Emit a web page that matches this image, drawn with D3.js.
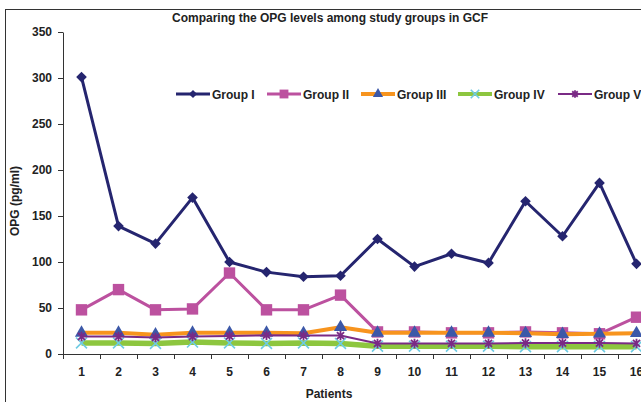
<!DOCTYPE html>
<html>
<head>
<meta charset="utf-8">
<script src="https://cdn.jsdelivr.net/npm/d3@7"></script>
<style>
  html, body { margin: 0; padding: 0; background: #fff; }
  svg { display: block; font-family: "Liberation Sans", Arial, sans-serif; }
</style>
</head>
<body>
<svg id="chart" width="641" height="402"></svg>
<script>
// ---- data ----
const patients = ["1","2","3","4","5","6","7","8","9","10","11","12","13","14","15","16"];
const seriesNames = ["Group I", "Group II", "Group III", "Group IV", "Group V"];
const groupI   = [301, 139, 120, 170, 100, 89, 84, 85, 125, 95, 109, 99, 166, 128, 186, 98];
const groupII  = [48, 70, 48, 49, 88, 48, 48, 64, 24, 24, 23, 23, 24, 23, 22, 40];
const groupIII = [23, 23, 21, 23, 23, 23, 22.5, 29, 23, 23, 23, 23, 22.5, 21.5, 22, 22.5];
const groupIV  = [12, 12, 11.5, 13, 12, 11.5, 12, 11.5, 8.5, 8.5, 8.5, 8.5, 8, 8, 8, 8];
const groupV   = [19, 19, 18, 19, 19.5, 20.5, 20, 20, 11.5, 11.5, 11.5, 11.5, 12, 12, 12, 11.5];
const yTicks = [0, 50, 100, 150, 200, 250, 300, 350];
const titleText = "Comparing the OPG levels among study groups in GCF";
const xTitle = "Patients";
const yTitle = "OPG (pg/ml)";

(function () {
// ---- marker shapes ----
const symTimes = { draw(c, size) { const r = Math.sqrt(size) / 2; c.moveTo(-r, -r); c.lineTo(r, r); c.moveTo(-r, r); c.lineTo(r, -r); } };
const symAst = { draw(c, size) { const r = Math.sqrt(size) / 2; const d = r * 0.75;
  c.moveTo(-d, -d); c.lineTo(d, d); c.moveTo(-d, d); c.lineTo(d, -d); c.moveTo(0, -r); c.lineTo(0, r); } };

const styles = [
  { data: groupI,   line: "#25256F", lw: 3,   sym: d3.symbolDiamond2, size: 72,  fill: "#25256F", stroke: "none", sw: 0 },
  { data: groupII,  line: "#BC519F", lw: 3,   sym: d3.symbolSquare,   size: 130, fill: "#BC519F", stroke: "none", sw: 0 },
  { data: groupIII, line: "#F7941E", lw: 4,   sym: d3.symbolTriangle, size: 75,  fill: "#3C58A8", stroke: "none", sw: 0 },
  { data: groupIV,  line: "#8DC63F", lw: 5.5, sym: symTimes,          size: 120, fill: "none", stroke: "#6DCBE3", sw: 1.6 },
  { data: groupV,   line: "#7A2A85", lw: 2,   sym: symAst,            size: 90,  fill: "none", stroke: "#7A2A85", sw: 1.8 }
];

const svg = d3.select("#chart");
const mLeft = 63, mTop = 32, mBottom = 354, step = 37;

const x = d3.scaleBand().domain(patients).range([mLeft, mLeft + step * patients.length]);
const xb = d3.scaleLinear().domain([0, patients.length]).range([mLeft, mLeft + step * patients.length]);
const y = d3.scaleLinear().domain([0, 350]).range([mBottom, mTop]);

// outer border
svg.append("rect").attr("x", 5.5).attr("y", 9.5).attr("width", 700).attr("height", 500)
  .attr("fill", "none").attr("stroke", "#333").attr("stroke-width", 1);

// title
svg.append("text").attr("x", 330).attr("y", 22).attr("text-anchor", "middle")
  .attr("font-size", 12).attr("font-weight", "bold").attr("fill", "#222").text(titleText);

// y axis
const yAxis = svg.append("g").attr("transform", `translate(${mLeft},0)`)
  .call(d3.axisLeft(y).tickValues(yTicks).tickSize(5).tickSizeOuter(0).tickPadding(6));
yAxis.selectAll("text").attr("font-size", 12).attr("font-weight", "bold").attr("fill", "#222")
  .attr("font-family", "Liberation Sans, Arial, sans-serif");
yAxis.selectAll("line, path").attr("stroke", "#333");

// x axis: boundary ticks
const xAxisTicks = svg.append("g").attr("transform", `translate(0,${mBottom})`)
  .call(d3.axisBottom(xb).tickValues(d3.range(0, patients.length + 1)).tickFormat("").tickSize(5).tickSizeOuter(0));
xAxisTicks.selectAll("line, path").attr("stroke", "#333");
// x labels
const xAxisLabels = svg.append("g").attr("transform", `translate(0,${mBottom})`)
  .call(d3.axisBottom(x).tickSize(0).tickPadding(13));
xAxisLabels.select("path").remove();
xAxisLabels.selectAll("text").attr("font-size", 12).attr("font-weight", "bold").attr("fill", "#222")
  .attr("font-family", "Liberation Sans, Arial, sans-serif");

// axis titles
svg.append("text").attr("x", 329).attr("y", 398).attr("text-anchor", "middle")
  .attr("font-size", 12).attr("font-weight", "bold").attr("fill", "#222").text(xTitle);
svg.append("text").attr("transform", "translate(19,201) rotate(-90)").attr("text-anchor", "middle")
  .attr("font-size", 12).attr("font-weight", "bold").attr("fill", "#222").text(yTitle);

// series
const cx = d => x(d) + x.bandwidth() / 2;
const lineGen = d3.line().x((d, i) => cx(patients[i])).y(d => y(d));
styles.forEach(s => {
  const g = svg.append("g");
  g.append("path").datum(s.data).attr("d", lineGen).attr("fill", "none")
    .attr("stroke", s.line).attr("stroke-width", s.lw).attr("stroke-linejoin", "round");
  g.selectAll("path.m").data(s.data).join("path").attr("class", "m")
    .attr("transform", (d, i) => `translate(${cx(patients[i])},${y(d)})`)
    .attr("d", d3.symbol().type(s.sym).size(s.size))
    .attr("fill", s.fill).attr("stroke", s.stroke).attr("stroke-width", s.sw);
});

// legend
const legendX = [176, 267, 361, 458, 558];
const legendY = 94;
styles.forEach((s, i) => {
  const g = svg.append("g").attr("transform", `translate(${legendX[i]},${legendY})`);
  g.append("line").attr("x1", 0).attr("x2", 34).attr("y1", 0).attr("y2", 0)
    .attr("stroke", s.line).attr("stroke-width", Math.min(s.lw, 4));
  g.append("path").attr("transform", "translate(17,0)")
    .attr("d", d3.symbol().type(s.sym).size(s.size * 0.6))
    .attr("fill", s.fill).attr("stroke", s.stroke).attr("stroke-width", s.sw);
  g.append("text").attr("x", 36).attr("y", 4.5).attr("font-size", 12).attr("font-weight", "bold")
    .attr("fill", "#222").text(seriesNames[i]);
});
})();
</script>
</body>
</html>
